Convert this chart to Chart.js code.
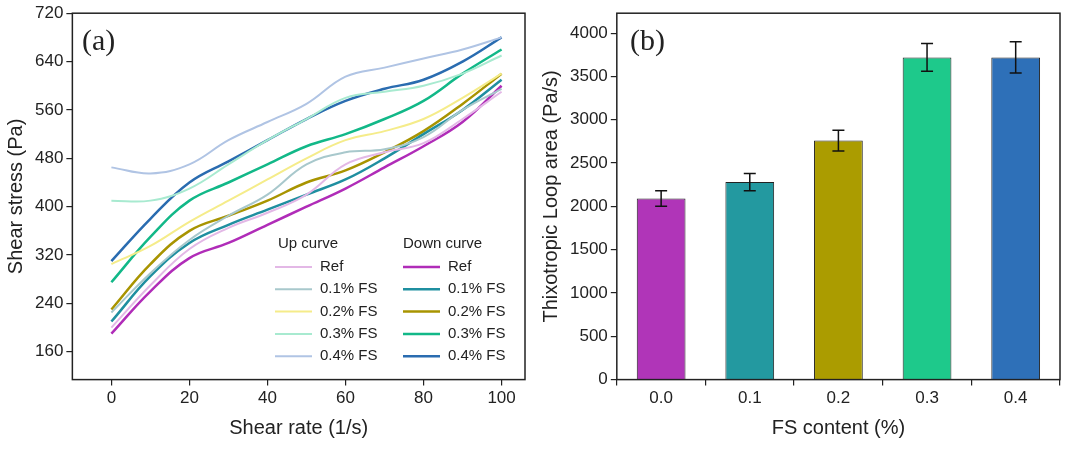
<!DOCTYPE html>
<html><head><meta charset="utf-8">
<script src="https://cdn.jsdelivr.net/npm/chart.js@4.4.0/dist/chart.umd.min.js"></script>
<style>
body{margin:0;background:#fff;}
#wa{position:absolute;left:0;top:0;width:540px;height:449px;}
#wb{position:absolute;left:535px;top:0;width:545px;height:449px;}
</style></head><body>
<div id="wa"><canvas id="ca"></canvas></div>
<div id="wb"><canvas id="cb"></canvas></div>
<script>
var rates = [0,10,20,30,40,50,60,70,80,90,100];
var seriesNames = ['Ref','0.1% FS','0.2% FS','0.3% FS','0.4% FS'];
var upCurves = [
  [200,270,330,365,390,420,470,490,505,545,590],
  [225,290,345,385,420,470,490,495,515,560,595],
  [305,335,375,410,445,480,510,525,545,580,620],
  [410,410,430,470,510,545,580,590,600,620,650],
  [465,455,470,510,540,570,615,630,645,660,680]
];
var downCurves = [
  [190,260,315,340,370,400,430,465,500,540,600],
  [210,285,340,370,395,420,445,480,520,560,610],
  [230,305,360,385,410,440,460,490,525,570,620],
  [275,350,410,440,470,500,520,545,575,620,660],
  [310,380,440,475,510,545,575,595,610,640,680]
];
var upColors = ['#e3b8e6','#a8c8cc','#f5ec8a','#a8ead0','#b0c4e4'];
var downColors = ['#b02cb8','#1f8fa0','#a89400','#12b888','#2a6cb0'];

var fsContent = ['0.0','0.1','0.2','0.3','0.4'];
var loopArea = [2090,2280,2760,3720,3720];
var loopErr = [90,100,120,160,180];
var barColors = ['#b035b8','#2399a0','#ab9c00','#1ec98b','#2e70b8'];

var F = 'Liberation Sans, Arial, sans-serif';
Chart.defaults.font.family = F;
Chart.defaults.color = '#222';
var tickGrid = {display:true,drawOnChartArea:false,tickLength:6,color:'#222',lineWidth:1.2};

var ds = [];
for (var i=0;i<5;i++) ds.push({data:rates.map(function(x,j){return {x:x,y:upCurves[i][j]};}),borderColor:upColors[i],borderWidth:2,pointRadius:0,tension:0.4});
for (var i=0;i<5;i++) ds.push({data:rates.map(function(x,j){return {x:x,y:downCurves[i][j]};}),borderColor:downColors[i],borderWidth:2.5,pointRadius:0,tension:0.4});

function frame(ctx,a){ctx.save();ctx.strokeStyle='#222';ctx.lineWidth=1.5;ctx.strokeRect(a.left,a.top,a.right-a.left,a.bottom-a.top);ctx.restore();}

var legendA = {id:'legA',afterDraw:function(c){
  var ctx=c.ctx;frame(ctx,c.chartArea);ctx.save();
  ctx.font='15px '+F;ctx.fillStyle='#222';ctx.textBaseline='middle';
  ctx.fillText('Up curve',278,244);ctx.fillText('Down curve',403,244);
  for(var i=0;i<5;i++){var y=267+i*22.3;
    ctx.lineWidth=2;ctx.strokeStyle=upColors[i];ctx.beginPath();ctx.moveTo(275,y);ctx.lineTo(312,y);ctx.stroke();
    ctx.fillText(seriesNames[i],320,y);
    ctx.lineWidth=2.5;ctx.strokeStyle=downColors[i];ctx.beginPath();ctx.moveTo(403,y);ctx.lineTo(440,y);ctx.stroke();
    ctx.fillText(seriesNames[i],448,y);}
  ctx.font='30px Liberation Serif, serif';ctx.fillText('(a)',82,42);
  ctx.restore();}};

new Chart(document.getElementById('ca'),{type:'line',data:{datasets:ds},
 options:{animation:false,responsive:true,maintainAspectRatio:false,
  layout:{padding:{top:10,right:15,bottom:5}},
  plugins:{legend:{display:false},tooltip:{enabled:false}},
  scales:{
   x:{type:'linear',min:-10,max:106,grid:tickGrid,border:{display:false},
      afterBuildTicks:function(s){s.ticks=[0,20,40,60,80,100].map(function(v){return {value:v};});},
      ticks:{font:{size:17},color:'#222'},
      title:{display:true,text:'Shear rate (1/s)',font:{size:20},color:'#222'}},
   y:{min:114,max:720,grid:tickGrid,border:{display:false},
      afterBuildTicks:function(s){var t=[];for(var v=160;v<=720;v+=80)t.push({value:v});s.ticks=t;},
      ticks:{font:{size:17},color:'#222'},
      title:{display:true,text:'Shear stress (Pa)',font:{size:20},color:'#222'}}}},
 plugins:[legendA]});

var errPlug = {id:'err',afterDatasetsDraw:function(c){
  var ctx=c.ctx,m=c.getDatasetMeta(0),y=c.scales.y;ctx.save();ctx.strokeStyle='#111';ctx.lineWidth=1.5;
  m.data.forEach(function(b,i){var x=b.x,t=y.getPixelForValue(loopArea[i]+loopErr[i]),bt=y.getPixelForValue(loopArea[i]-loopErr[i]);
    ctx.beginPath();ctx.moveTo(x,t);ctx.lineTo(x,bt);ctx.moveTo(x-6,t);ctx.lineTo(x+6,t);ctx.moveTo(x-6,bt);ctx.lineTo(x+6,bt);ctx.stroke();});
  frame(ctx,c.chartArea);
  ctx.fillStyle='#222';ctx.font='30px Liberation Serif, serif';ctx.textBaseline='middle';ctx.fillText('(b)',95,42);
  ctx.restore();}};

new Chart(document.getElementById('cb'),{type:'bar',
 data:{labels:fsContent,datasets:[{data:loopArea,backgroundColor:barColors,borderColor:'#222',borderWidth:1,barPercentage:0.55,categoryPercentage:1}]},
 options:{animation:false,responsive:true,maintainAspectRatio:false,
  layout:{padding:{top:10,right:20,bottom:5}},
  plugins:{legend:{display:false},tooltip:{enabled:false}},
  scales:{
   x:{grid:tickGrid,border:{display:false},ticks:{font:{size:17},color:'#222'},
      title:{display:true,text:'FS content (%)',font:{size:20},color:'#222'}},
   y:{min:0,max:4230,grid:tickGrid,border:{display:false},
      afterBuildTicks:function(s){var t=[];for(var v=0;v<=4000;v+=500)t.push({value:v});s.ticks=t;},
      ticks:{font:{size:17},color:'#222',callback:function(v){return String(v);}},
      title:{display:true,text:'Thixotropic Loop area (Pa/s)',font:{size:20},color:'#222'}}}},
 plugins:[errPlug]});
</script></body></html>
